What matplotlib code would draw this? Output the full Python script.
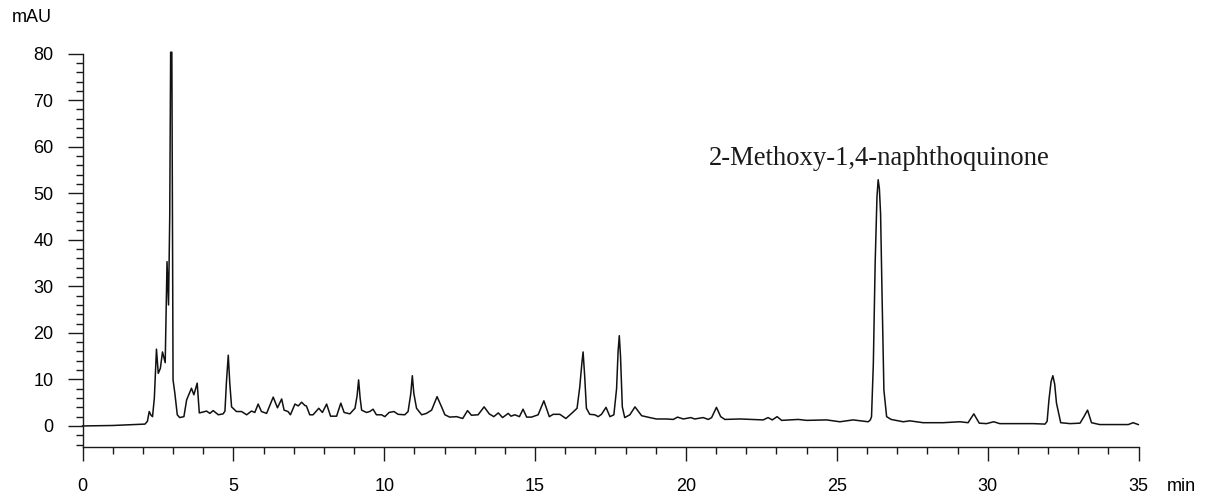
import matplotlib
matplotlib.use("Agg")
import matplotlib.pyplot as plt
from matplotlib.ticker import MultipleLocator

# retention time (min) and absorbance (mAU)
time_min = [0.0, 1.0, 2.07, 2.15, 2.21, 2.27, 2.32, 2.38, 2.45, 2.51, 2.58, 2.65, 2.74, 2.80, 2.85,
            2.89, 2.92, 2.96, 2.99, 3.00, 3.06, 3.14, 3.22, 3.36, 3.45, 3.61, 3.69, 3.80, 3.87,
            4.00, 4.11, 4.22, 4.33, 4.50, 4.66, 4.72, 4.77, 4.83, 4.88, 4.94, 5.10, 5.27, 5.44,
            5.60, 5.71, 5.82, 5.93, 6.10, 6.32, 6.46, 6.60, 6.68, 6.81, 6.89, 7.04, 7.15, 7.26,
            7.37, 7.42, 7.53, 7.64, 7.83, 7.95, 8.09, 8.22, 8.42, 8.56, 8.67, 8.86, 9.03, 9.10,
            9.15, 9.20, 9.25, 9.41, 9.52, 9.63, 9.74, 9.91, 10.02, 10.16, 10.32, 10.46, 10.68,
            10.79, 10.88, 10.93, 10.98, 11.07, 11.24, 11.40, 11.57, 11.75, 11.90, 12.01, 12.17,
            12.40, 12.60, 12.76, 12.89, 13.11, 13.31, 13.48, 13.63, 13.78, 13.92, 14.11, 14.20,
            14.33, 14.48, 14.60, 14.72, 14.88, 15.10, 15.29, 15.47, 15.60, 15.82, 16.02, 16.21,
            16.39, 16.48, 16.55, 16.59, 16.64, 16.70, 16.81, 16.98, 17.09, 17.20, 17.35, 17.48,
            17.61, 17.70, 17.75, 17.79, 17.83, 17.89, 17.97, 18.14, 18.31, 18.53, 18.80, 19.02,
            19.36, 19.58, 19.72, 19.91, 20.16, 20.29, 20.57, 20.74, 20.85, 21.01, 21.15, 21.29,
            21.79, 22.56, 22.72, 22.86, 23.02, 23.17, 23.72, 24.00, 24.66, 25.10, 25.54, 26.04,
            26.11, 26.15, 26.21, 26.27, 26.33, 26.37, 26.41, 26.45, 26.50, 26.56, 26.65, 26.80,
            27.20, 27.42, 27.86, 28.52, 29.08, 29.35, 29.54, 29.72, 29.96, 30.20, 30.40, 31.51,
            31.90, 31.97, 32.03, 32.10, 32.16, 32.22, 32.28, 32.42, 32.73, 33.06, 33.19, 33.31,
            33.44, 33.71, 34.66, 34.82, 34.99]
signal_mau = [0.0, 0.1, 0.4, 1.0, 3.1, 2.3, 2.0, 6.0, 16.5, 11.3, 12.4, 15.9, 13.6, 35.3, 26.0,
              45.0, 80.3, 80.3, 25.0, 9.9, 7.0, 2.4, 1.8, 2.0, 5.6, 8.1, 6.7, 9.2, 2.8,
              3.0, 3.2, 2.7, 3.3, 2.4, 2.6, 3.2, 9.5, 15.2, 9.2, 4.1, 3.1, 3.1, 2.4,
              3.2, 2.9, 4.7, 3.1, 2.7, 6.2, 3.9, 5.8, 3.4, 3.1, 2.4, 4.7, 4.3, 5.1,
              4.4, 4.3, 2.4, 2.4, 3.8, 2.9, 4.7, 2.1, 2.1, 4.9, 2.9, 2.6, 3.8, 6.5,
              9.9, 6.0, 3.4, 2.9, 3.1, 3.6, 2.4, 2.4, 2.0, 2.9, 3.1, 2.5, 2.4,
              3.1, 7.0, 10.8, 7.0, 3.8, 2.4, 2.7, 3.4, 6.3, 4.1, 2.4, 1.9,
              2.0, 1.6, 3.3, 2.3, 2.4, 4.1, 2.6, 2.0, 2.8, 1.8, 2.7, 2.1,
              2.4, 2.0, 3.6, 1.9, 1.9, 2.4, 5.4, 2.0, 2.5, 2.5, 1.6, 2.7,
              3.8, 8.4, 13.5, 15.9, 11.0, 3.8, 2.5, 2.4, 2.0, 2.5, 4.0, 2.0,
              2.4, 8.0, 16.0, 19.4, 15.0, 4.1, 1.8, 2.4, 4.1, 2.2, 1.8, 1.5,
              1.5, 1.4, 1.9, 1.5, 1.8, 1.5, 1.8, 1.4, 1.8, 4.0, 2.0, 1.4,
              1.5, 1.3, 1.8, 1.3, 2.0, 1.2, 1.4, 1.2, 1.3, 0.9, 1.3, 0.9,
              1.3, 2.0, 13.4, 34.9, 49.2, 52.9, 51.0, 45.6, 27.7, 7.7, 2.0, 1.4,
              0.9, 1.1, 0.7, 0.7, 0.9, 0.7, 2.6, 0.6, 0.5, 0.9, 0.5, 0.5,
              0.4, 1.0, 5.6, 9.5, 10.8, 9.0, 4.9, 0.7, 0.5, 0.6, 2.0, 3.4,
              0.7, 0.3, 0.3, 0.7, 0.3]

peak_label = "2-Methoxy-1,4-naphthoquinone"
peak_label_pos = (20.75, 56.0)

plt.rcParams['font.family'] = ['Liberation Sans', 'DejaVu Sans']

fig = plt.figure(figsize=(12.12, 5.0), dpi=100)
ax = fig.add_axes([0.0681, 0.1062, 0.8713, 0.7912])

ax.plot(time_min, signal_mau, color='#111111', linewidth=1.1, clip_on=False)

ax.set_xlim(0, 35)
ax.set_ylim(-4.5, 80.5)

ax.spines['top'].set_visible(False)
ax.spines['right'].set_visible(False)
ax.spines['left'].set_bounds(-4.5, 80)
for s in ('left', 'bottom'):
    ax.spines[s].set_linewidth(1.0)
    ax.spines[s].set_color('#1a1a1a')

ax.xaxis.set_major_locator(MultipleLocator(5))
ax.xaxis.set_minor_locator(MultipleLocator(1))
ax.set_yticks(range(0, 81, 10))
ax.yaxis.set_minor_locator(MultipleLocator(2))

ax.tick_params(axis='x', which='major', length=10, width=1.0, pad=12.5, labelsize=13, color='#1a1a1a')
ax.tick_params(axis='x', which='minor', length=5, width=1.0, color='#1a1a1a')
ax.tick_params(axis='y', which='major', length=10.5, width=1.0, pad=10.5, labelsize=13, color='#1a1a1a')
ax.tick_params(axis='y', which='minor', length=5.3, width=1.0, color='#1a1a1a')

ax.text(peak_label_pos[0], peak_label_pos[1], peak_label, fontsize=19.2,
        family=['Liberation Serif', 'DejaVu Serif'], color='#1a1a1a', va='baseline', ha='left')

fig.text(11.7 / 1212, 1 - 21.7 / 500, 'mAU', fontsize=13, ha='left', va='baseline')
fig.text(1166.7 / 1212, 1 - 491 / 500, 'min', fontsize=13, ha='left', va='baseline')

fig.savefig('out.png', dpi=100)
